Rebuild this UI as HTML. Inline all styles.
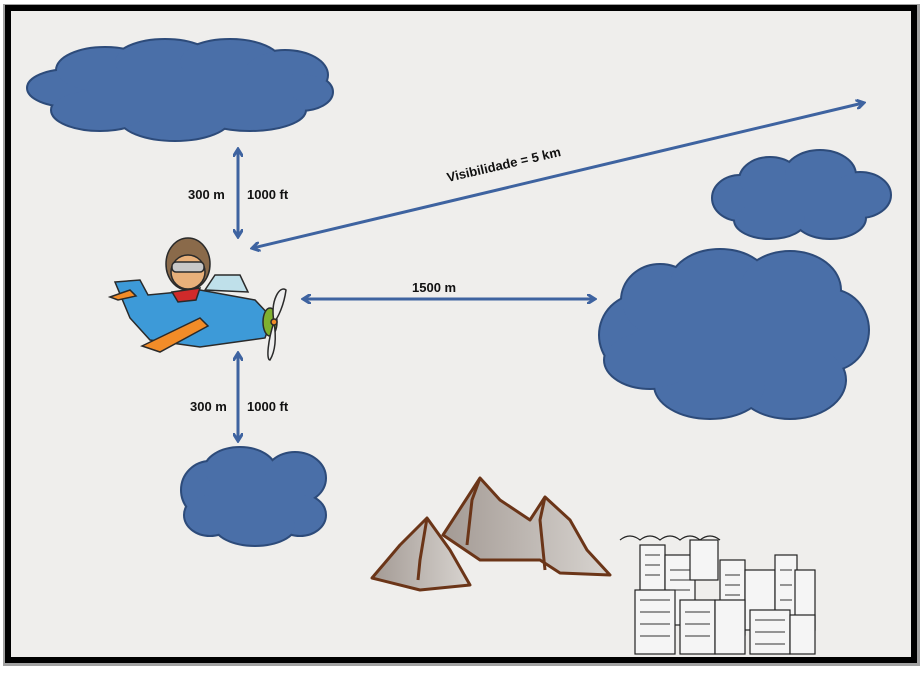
<!DOCTYPE html>
<html><head><meta charset="utf-8"><style>
html,body{margin:0;padding:0;background:#fff;width:924px;height:674px;overflow:hidden}
svg{display:block}
text{font-family:"Liberation Sans",sans-serif;font-weight:bold;font-size:13px;fill:#111}
</style></head><body>
<svg width="924" height="674" viewBox="0 0 924 674">
<defs>
<marker id="ah" markerWidth="10" markerHeight="10" refX="7" refY="5" orient="auto-start-reverse" markerUnits="userSpaceOnUse">
<path d="M0,0 L8,5 L0,10" fill="none" stroke="#3e63a0" stroke-width="3"/>
</marker>
<linearGradient id="mt" x1="0" x2="1"><stop offset="0" stop-color="#a39a94"/><stop offset="1" stop-color="#d8d4d0"/></linearGradient>
</defs>
<rect x="3" y="4" width="917" height="662" fill="#444" opacity="0.5"/>
<rect x="5" y="5" width="912" height="658" fill="#000"/>
<rect x="11" y="11" width="900" height="646" fill="#efeeec"/>

<!-- clouds -->
<g stroke="#2d4b7a" stroke-width="4" fill="#4a6fa8">
<g id="c1">
<ellipse cx="70" cy="88" rx="42" ry="18"/><ellipse cx="105" cy="70" rx="48" ry="22"/><ellipse cx="165" cy="62" rx="50" ry="22"/>
<ellipse cx="230" cy="62" rx="50" ry="22"/><ellipse cx="285" cy="75" rx="42" ry="24"/><ellipse cx="300" cy="92" rx="32" ry="18"/>
<ellipse cx="250" cy="110" rx="55" ry="20"/><ellipse cx="175" cy="118" rx="55" ry="22"/><ellipse cx="100" cy="110" rx="48" ry="20"/>
</g>
<g>
<ellipse cx="740" cy="198" rx="27" ry="22"/><ellipse cx="770" cy="180" rx="30" ry="22"/><ellipse cx="820" cy="175" rx="35" ry="24"/>
<ellipse cx="860" cy="195" rx="30" ry="22"/><ellipse cx="830" cy="218" rx="35" ry="20"/><ellipse cx="770" cy="220" rx="35" ry="18"/>
</g>
<g>
<ellipse cx="640" cy="335" rx="40" ry="40"/><ellipse cx="660" cy="300" rx="38" ry="35"/><ellipse cx="720" cy="285" rx="50" ry="35"/>
<ellipse cx="790" cy="290" rx="50" ry="38"/><ellipse cx="830" cy="330" rx="38" ry="40"/><ellipse cx="790" cy="380" rx="55" ry="38"/>
<ellipse cx="710" cy="385" rx="55" ry="33"/><ellipse cx="650" cy="360" rx="45" ry="28"/>
</g>
<g>
<ellipse cx="210" cy="490" rx="28" ry="28"/><ellipse cx="240" cy="470" rx="35" ry="22"/><ellipse cx="295" cy="478" rx="30" ry="25"/>
<ellipse cx="300" cy="515" rx="25" ry="20"/><ellipse cx="255" cy="525" rx="40" ry="20"/><ellipse cx="210" cy="515" rx="25" ry="20"/>
</g>
</g>
<g fill="#4a6fa8">
<ellipse cx="70" cy="88" rx="42" ry="18"/><ellipse cx="105" cy="70" rx="48" ry="22"/><ellipse cx="165" cy="62" rx="50" ry="22"/>
<ellipse cx="230" cy="62" rx="50" ry="22"/><ellipse cx="285" cy="75" rx="42" ry="24"/><ellipse cx="300" cy="92" rx="32" ry="18"/>
<ellipse cx="250" cy="110" rx="55" ry="20"/><ellipse cx="175" cy="118" rx="55" ry="22"/><ellipse cx="100" cy="110" rx="48" ry="20"/>
<rect x="90" y="70" width="200" height="50"/>
<ellipse cx="740" cy="198" rx="27" ry="22"/><ellipse cx="770" cy="180" rx="30" ry="22"/><ellipse cx="820" cy="175" rx="35" ry="24"/>
<ellipse cx="860" cy="195" rx="30" ry="22"/><ellipse cx="830" cy="218" rx="35" ry="20"/><ellipse cx="770" cy="220" rx="35" ry="18"/>
<rect x="745" y="180" width="110" height="35"/>
<ellipse cx="640" cy="335" rx="40" ry="40"/><ellipse cx="660" cy="300" rx="38" ry="35"/><ellipse cx="720" cy="285" rx="50" ry="35"/>
<ellipse cx="790" cy="290" rx="50" ry="38"/><ellipse cx="830" cy="330" rx="38" ry="40"/><ellipse cx="790" cy="380" rx="55" ry="38"/>
<ellipse cx="710" cy="385" rx="55" ry="33"/><ellipse cx="650" cy="360" rx="45" ry="28"/>
<rect x="640" y="290" width="190" height="90"/>
<ellipse cx="210" cy="490" rx="28" ry="28"/><ellipse cx="240" cy="470" rx="35" ry="22"/><ellipse cx="295" cy="478" rx="30" ry="25"/>
<ellipse cx="300" cy="515" rx="25" ry="20"/><ellipse cx="255" cy="525" rx="40" ry="20"/><ellipse cx="210" cy="515" rx="25" ry="20"/>
<rect x="210" y="475" width="90" height="45"/>
</g>

<!-- arrows -->
<g stroke="#3e63a0" stroke-width="3" fill="none">
<line x1="238" y1="150" x2="238" y2="236" marker-start="url(#ah)" marker-end="url(#ah)"/>
<line x1="863" y1="103" x2="253" y2="248" marker-start="url(#ah)" marker-end="url(#ah)"/>
<line x1="304" y1="299" x2="594" y2="299" marker-start="url(#ah)" marker-end="url(#ah)"/>
<line x1="238" y1="354" x2="238" y2="440" marker-start="url(#ah)" marker-end="url(#ah)"/>
</g>
<text x="188" y="199">300 m</text><text x="247" y="199">1000 ft</text>
<text x="190" y="411">300 m</text><text x="247" y="411">1000 ft</text>
<text x="412" y="292">1500 m</text>
<text transform="translate(448,182) rotate(-13)">Visibilidade  = 5 km</text>

<!-- plane -->
<g stroke="#2a2a2a" stroke-width="1.5">
<path d="M115,282 L140,280 L148,295 L200,290 L255,300 L272,318 L265,338 L200,347 L150,340 L130,318 Z" fill="#3d9ad8"/>
<path d="M110,297 L130,290 L136,296 L118,300 Z" fill="#f28c28"/>
<path d="M142,346 L200,318 L208,326 L160,352 Z" fill="#f28c28"/>
<path d="M205,290 L215,275 L240,275 L248,292 Z" fill="#bfe0ea"/>
<ellipse cx="188" cy="264" rx="22" ry="26" fill="#8a6a4a"/>
<circle cx="188" cy="272" r="17" fill="#e8b07a"/>
<rect x="172" y="262" width="32" height="10" rx="4" fill="#c8c8c8"/>
<path d="M172,292 L200,288 L196,300 L178,302 Z" fill="#d02a2a"/>
<ellipse cx="270" cy="322" rx="7" ry="14" fill="#7fb030"/>
<path d="M274,322 C270,300 280,285 286,290 C284,305 278,318 274,322 C268,340 266,360 270,360 C276,350 276,335 274,322 Z" fill="#eee"/>
<circle cx="274" cy="322" r="3" fill="#f28c28"/>
</g>

<!-- mountains -->
<g stroke="#6b3518" stroke-width="3" stroke-linejoin="round">
<path d="M443,535 L480,478 L500,500 L530,520 L545,497 L570,520 L587,550 L610,575 L560,573 L540,560 L480,560 Z" fill="url(#mt)"/>
<path d="M372,578 L400,545 L427,518 L450,550 L470,585 L420,590 Z" fill="url(#mt)"/>
<path d="M480,478 L472,500 L467,545 M545,497 L540,520 L545,570 M427,518 L420,560 L418,580" fill="none"/>
</g>

<!-- city -->
<g stroke="#222" stroke-width="1.2" fill="#f5f5f5">
<path d="M620,540 q10,-8 20,0 q10,-8 20,0 q10,-8 20,0 q10,-8 20,0 q10,-8 20,0" fill="none"/>
<rect x="640" y="545" width="25" height="60"/><rect x="665" y="555" width="30" height="70"/><rect x="690" y="540" width="28" height="40"/>
<rect x="720" y="560" width="25" height="75"/><rect x="745" y="570" width="30" height="60"/><rect x="775" y="555" width="22" height="70"/>
<rect x="795" y="570" width="20" height="60"/><rect x="635" y="590" width="40" height="64"/><rect x="680" y="600" width="35" height="54"/>
<rect x="715" y="600" width="30" height="54"/><rect x="750" y="610" width="40" height="44"/><rect x="790" y="615" width="25" height="39"/>
</g>
<g stroke="#333" stroke-width="1">
<path d="M645,555h15M645,565h15M645,575h15M670,570h20M670,580h20M670,590h20M725,575h15M725,585h15M725,595h15M640,600h30M640,612h30M640,624h30M640,636h30M685,612h25M685,624h25M685,636h25M755,620h30M755,632h30M755,644h30M780,570h12M780,585h12M780,600h12"/>
</g>
</svg>
</body></html>
